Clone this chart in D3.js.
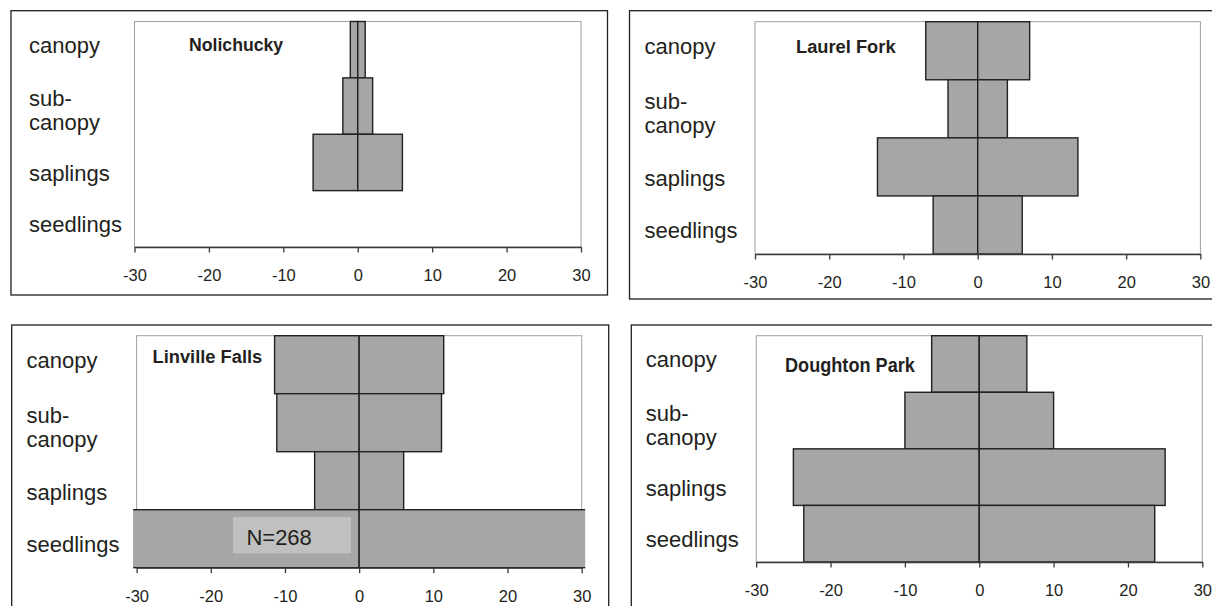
<!DOCTYPE html>
<html>
<meta charset="utf-8">
<style>
body { margin: 0; background: #fff; }
svg { display: block; font-family: "Liberation Sans", Arial, sans-serif; }
.frame { fill: none; stroke: #231f20; stroke-width: 1.3px; }
.plotarea { fill: #fff; stroke: #a0a0a0; stroke-width: 1px; }
.bar { fill: #a6a6a9; stroke: #231f20; stroke-width: 1.4px; }
.cat { fill: #231f20; font-size: 22px; }
.site { fill: #231f20; font-weight: bold; }
.axis .domain, .axis .tick line { stroke: #3a3a3a; stroke-width: 1.3px; }
.axis text { fill: #231f20; font-size: 16.5px; font-family: "Liberation Sans", Arial, sans-serif; }
.nbox { fill: #c0c0c0; }
.ntext { fill: #231f20; font-size: 22px; }
</style>
<body>
<svg width="1212" height="606"></svg>
<script src="https://cdn.jsdelivr.net/npm/d3@7"></script>
<script>

// size classes, top to bottom
var categories = ["canopy", "sub-canopy", "saplings", "seedlings"];
var categoryLines = [["canopy"], ["sub-", "canopy"], ["saplings"], ["seedlings"]];

// half-width of each bar (drawn on both sides of zero)
var nolichucky    = [1, 2, 6, 0];
var laurelFork    = [7, 4, 13.5, 6];
var linvilleFalls = [11.4, 11.1, 6, 134];
var doughtonPark  = [6.4, 10, 25, 23.6];

var xTicks = [-30, -20, -10, 0, 10, 20, 30];
var linvilleNote = "N=268";

// layout of the four panels
var panels = [
  { site: "Nolichucky", values: nolichucky,
    box: [11, 10.7, 607.5, 295], plot: [134.5, 21.5, 581, 247],
    catX: 29, title: [189, 51], tsize: 19, squeeze: 0.93 },
  { site: "Laurel Fork", values: laurelFork,
    box: [629.5, 10.7, 1230, 299], plot: [755, 21.7, 1200.4, 254],
    catX: 644.5, title: [796, 53.3], tsize: 18.3, squeeze: 1 },
  { site: "Linville Falls", values: linvilleFalls,
    box: [11.7, 325, 608.7, 640], plot: [136.6, 335.7, 581.7, 567.7],
    catX: 26.5, title: [152.5, 363.3], tsize: 18.3, squeeze: 1, note: linvilleNote },
  { site: "Doughton Park", values: doughtonPark,
    box: [631.3, 325, 1230, 640], plot: [756.2, 335.7, 1202.3, 562],
    catX: 645.7, title: [785, 371.7], tsize: 19.5, squeeze: 0.93 }
];

// baseline shift of the category labels from band centre
var labelShift = [3.5, 0, 19, 13];

var svg = d3.select("svg");
var defs = svg.append("defs");

panels.forEach(function(p, i) {
  var g = svg.append("g");
  var x0 = p.plot[0], y0 = p.plot[1], x1 = p.plot[2], y1 = p.plot[3];

  var x = d3.scaleLinear().domain([-30, 30]).range([x0, x1]);
  var y = d3.scaleBand().domain(categories).range([y0, y1]).paddingInner(0).paddingOuter(0);

  g.append("rect")
      .attr("class", "frame")
      .attr("x", p.box[0]).attr("y", p.box[1])
      .attr("width", p.box[2] - p.box[0]).attr("height", p.box[3] - p.box[1]);

  g.append("rect")
      .attr("class", "plotarea")
      .attr("x", x0).attr("y", y0)
      .attr("width", x1 - x0).attr("height", y1 - y0);

  // bars may run a few px past the plot edges, like the original
  defs.append("clipPath").attr("id", "clip" + i)
    .append("rect")
      .attr("x", x0 - 3.5).attr("y", y0 - 2)
      .attr("width", x1 - x0 + 7).attr("height", y1 - y0 + 4);

  var rows = categories.map(function(c, k) { return { cat: c, v: p.values[k] }; })
      .filter(function(d) { return d.v > 0; });

  var bars = g.append("g").attr("clip-path", "url(#clip" + i + ")");
  bars.selectAll("rect.left")
      .data(rows)
    .enter().append("rect")
      .attr("class", "bar left")
      .attr("x", function(d) { return x(-d.v); })
      .attr("y", function(d) { return y(d.cat); })
      .attr("width", function(d) { return x(0) - x(-d.v); })
      .attr("height", y.bandwidth());
  bars.selectAll("rect.right")
      .data(rows)
    .enter().append("rect")
      .attr("class", "bar right")
      .attr("x", x(0))
      .attr("y", function(d) { return y(d.cat); })
      .attr("width", function(d) { return x(d.v) - x(0); })
      .attr("height", y.bandwidth());

  var ax = g.append("g")
      .attr("class", "axis")
      .attr("transform", "translate(0," + y1 + ")")
      .call(d3.axisBottom(x).tickValues(xTicks).tickSize(5.5).tickPadding(16.8).tickSizeOuter(0));
  ax.selectAll(".tick text").text(function(d) { return d; });

  // category labels
  categories.forEach(function(c, k) {
    var t = g.append("text")
        .attr("class", "cat")
        .attr("x", p.catX)
        .attr("y", y(c) + y.bandwidth() / 2 + labelShift[k]);
    categoryLines[k].forEach(function(line, j) {
      t.append("tspan").attr("x", p.catX).attr("dy", j === 0 ? 0 : 24).text(line);
    });
  });

  g.append("text")
      .attr("class", "site")
      .attr("transform", "translate(" + p.title[0] + "," + p.title[1] + ") scale(" + p.squeeze + ",1)")
      .style("font-size", p.tsize + "px")
      .text(p.site);

  if (p.note) {
    var band = y("seedlings");
    g.append("rect")
        .attr("class", "nbox")
        .attr("x", x(-17)).attr("y", band + 7.4)
        .attr("width", x(-1.1) - x(-17)).attr("height", y.bandwidth() - 21.8);
    g.append("text")
        .attr("class", "ntext")
        .attr("x", x(-15.2))
        .attr("y", band + 35.4)
        .text(p.note);
  }
});

</script>
</body>
</html>
